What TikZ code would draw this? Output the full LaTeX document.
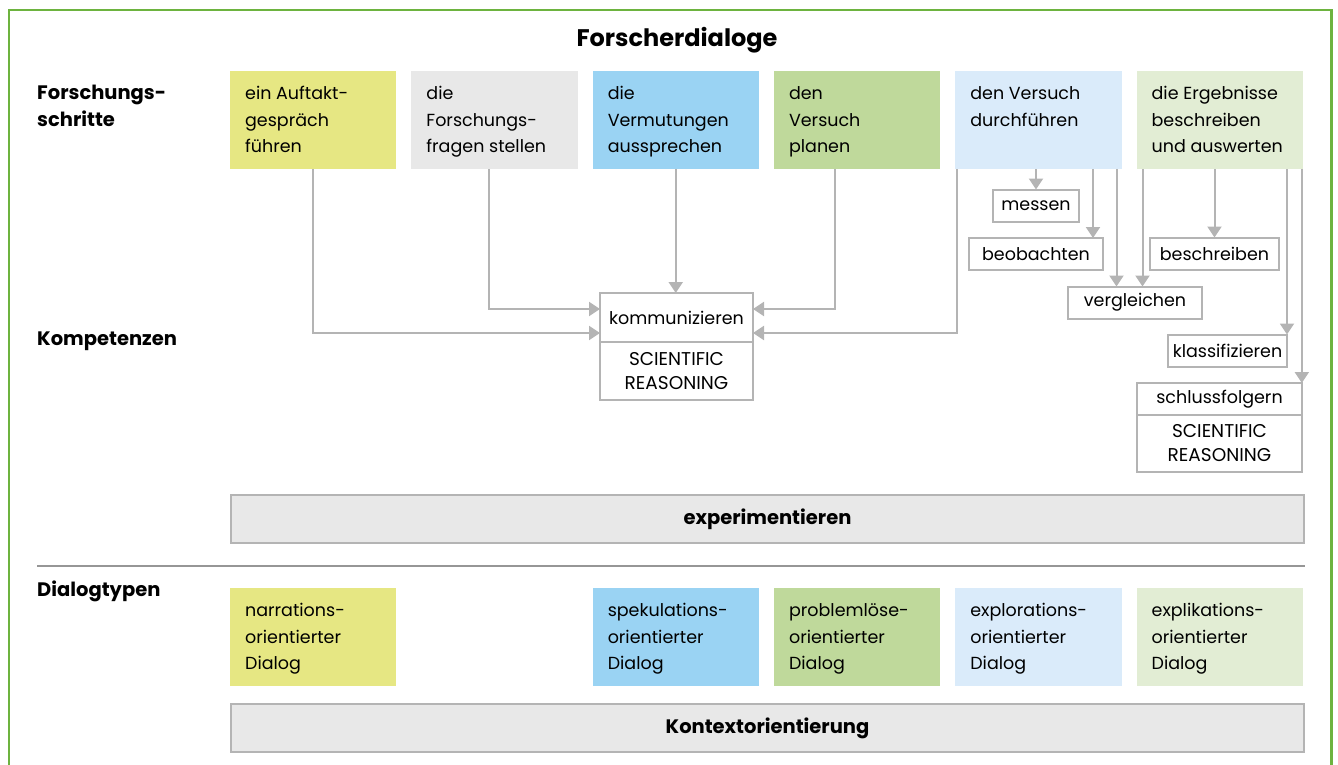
\documentclass[tikz,border=0pt]{standalone}
\usepackage{fontspec}
\setmainfont{Poppins}
\usetikzlibrary{positioning, arrows.meta, calc}

\definecolor{frameGreen}{RGB}{109,179,63}
\definecolor{lineGray}{RGB}{180,180,180}
\definecolor{sepGray}{RGB}{150,150,150}
\definecolor{barGray}{RGB}{232,232,232}
\definecolor{cYellow}{RGB}{230,231,131}
\definecolor{cGray}{RGB}{232,232,232}
\definecolor{cBlue}{RGB}{154,211,243}
\definecolor{cGreen}{RGB}{191,217,155}
\definecolor{cLightBlue}{RGB}{218,235,250}
\definecolor{cLightGreen}{RGB}{226,237,212}

\newcommand{\bodyfont}{\fontsize{17.5}{26.5}\selectfont}
\newcommand{\capsfont}{\fontsize{18.5}{24}\selectfont}
\newcommand{\labelfont}{\fontsize{19.5}{27}\selectfont\bfseries}
\newcommand{\boxtext}[1]{\parbox[c][78pt][t]{136pt}{\raggedright\strut#1}}

\begin{document}
\begin{tikzpicture}[
    x=1pt, y=-1pt,
    stepbox/.style={rectangle, fill=#1, anchor=north west, minimum width=166.3pt,
                    minimum height=98pt, inner xsep=15pt, inner ysep=10pt, outer sep=0pt,
                    font=\bodyfont},
    smallbox/.style={rectangle, draw=lineGray, line width=2pt, fill=white, outer sep=0pt,
                     minimum height=32pt, inner xsep=4pt, font=\bodyfont},
    srbox/.style={rectangle, draw=lineGray, line width=2pt, fill=white, anchor=north,
                  outer sep=0pt, align=center, font=\capsfont},
    bar/.style={rectangle, draw=lineGray, line width=2pt, fill=barGray, anchor=north west,
                minimum width=1073pt, minimum height=48pt, font=\labelfont},
    arrow/.style={-{Triangle[length=11pt, width=14pt]}, draw=lineGray, line width=2pt},
    label/.style={font=\labelfont, anchor=base west, align=left, inner sep=0pt}
]
    \useasboundingbox (0,0) rectangle (1338,765);

    % Frame (open at the bottom)
    \draw[frameGreen, line width=2.7pt] (9,765) -- (9,10) -- (1331.5,10) -- (1331.5,765);

    % Title
    \node[font=\fontsize{24}{28}\selectfont\bfseries, anchor=base, inner sep=0pt] (title) at (677,47) {Forscherdialoge};

    % Row labels
    \node[label] (lschritte) at (37,127) {Forschungs-\\schritte};
    \node[label] (lkomp) at (37,345) {Kompetenzen};
    \node[label] (ldialog) at (37,596) {Dialogtypen};

    % Forschungsschritte
    \node[stepbox=cYellow] (s1) at (230,71) {\boxtext{ein Auftakt-\\gespräch\\führen}};
    \node[stepbox=cGray, right=15pt of s1] (s2) {\boxtext{die\\Forschungs-\\fragen stellen}};
    \node[stepbox=cBlue, right=15pt of s2] (s3) {\boxtext{die\\Vermutungen\\aussprechen}};
    \node[stepbox=cGreen, right=15pt of s3] (s4) {\boxtext{den\\Versuch\\planen}};
    \node[stepbox=cLightBlue, right=15pt of s4] (s5) {\boxtext{den Versuch\\durchführen}};
    \node[stepbox=cLightGreen, right=15pt of s5] (s6) {\boxtext{die Ergebnisse\\beschreiben\\und auswerten}};

    % Kompetenzen
    \node[smallbox, minimum width=153pt, minimum height=49pt] (komm) at (676.5,317.5) {kommunizieren};
    \node[srbox, minimum width=153pt, minimum height=58pt] (kommsr) at (komm.south) {SCIENTIFIC\\REASONING};

    \node[smallbox, minimum width=86pt] (messen) at (1036,205.5) {messen};
    \node[smallbox, minimum width=134pt] (beob) at (1036,254) {beobachten};
    \node[smallbox, minimum width=134pt] (vergl) at (1135,302.5) {vergleichen};
    \node[smallbox, minimum width=129pt] (beschr) at (1214.5,253.5) {beschreiben};
    \node[smallbox, minimum width=119pt] (klass) at (1227.5,350.5) {klassifizieren};
    \node[smallbox, minimum width=165pt] (schluss) at (1219.5,399) {schlussfolgern};
    \node[srbox, minimum width=165pt, minimum height=57pt] (schlusssr) at (schluss.south) {SCIENTIFIC\\REASONING};

    % Arrows to kommunizieren
    \draw[arrow] (s1.south) |- ([yshift=-15.5pt]komm.west);
    \draw[arrow] ($(s2.south)+(-5,0)$) |- ([yshift=8.5pt]komm.west);
    \draw[arrow] (s3.south) -- (s3.south |- komm.north);
    \draw[arrow] ($(s4.south)+(-22,0)$) |- ([yshift=8.5pt]komm.east);
    \draw[arrow] ($(s5.south west)+(2,0)$) |- ([yshift=-15.5pt]komm.east);

    % Arrows from den Versuch durchfuehren
    \draw[arrow] (s5.south -| messen.north) -- (messen.north);
    \draw[arrow] ($(s5.south -| beob.north east)+(-10,0)$) -- ($(beob.north east)+(-10,0)$);
    \draw[arrow] ($(s5.south east)+(-5,0)$) -- ($(s5.south east |- vergl.north)+(-5,0)$);

    % Arrows from die Ergebnisse beschreiben und auswerten
    \draw[arrow] ($(s6.south west)+(6,0)$) -- ($(s6.south west |- vergl.north)+(6,0)$);
    \draw[arrow] (s6.south -| beschr.north) -- (beschr.north);
    \draw[arrow] (s6.south -| klass.north east) -- (klass.north east);
    \draw[arrow] ($(s6.south east)+(-1,0)$) -- ($(s6.south east |- schluss.north)+(-1,0)$);

    % experimentieren
    \node[bar] (exp) at (230,494) {experimentieren};

    % Separator
    \draw[sepGray, line width=2pt] (37,566) -- (exp.south east |- 0,566);

    % Dialogtypen
    \node[stepbox=cYellow] (d1) at (230,588) {\boxtext{narrations-\\orientierter\\Dialog}};
    \node[stepbox=cBlue] (d3) at (s3.north west |- d1.north west) {\boxtext{spekulations-\\orientierter\\Dialog}};
    \node[stepbox=cGreen] (d4) at (s4.north west |- d1.north west) {\boxtext{problemlöse-\\orientierter\\Dialog}};
    \node[stepbox=cLightBlue] (d5) at (s5.north west |- d1.north west) {\boxtext{explorations-\\orientierter\\Dialog}};
    \node[stepbox=cLightGreen] (d6) at (s6.north west |- d1.north west) {\boxtext{explikations-\\orientierter\\Dialog}};

    % Kontextorientierung
    \node[bar] (kontext) at (230,703) {Kontextorientierung};

\end{tikzpicture}
\end{document}
